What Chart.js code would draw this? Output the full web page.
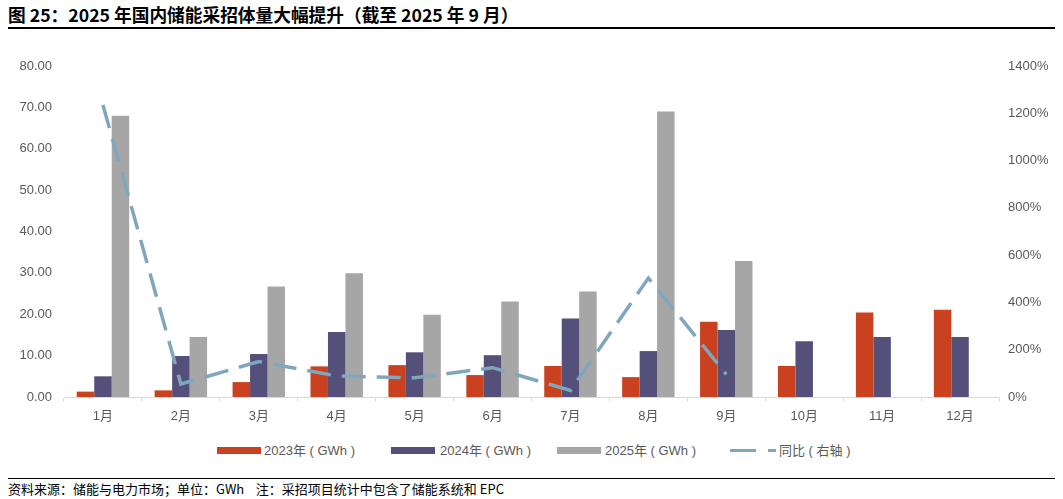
<!DOCTYPE html>
<html>
<head>
<meta charset="utf-8">
<script src="https://cdn.jsdelivr.net/npm/chart.js@4.4.0/dist/chart.umd.min.js"></script>
<style>
  body { margin: 0; width: 1063px; height: 499px; background: #fff; position: relative; overflow: hidden; }
  #title { position: absolute; left: 8px; top: 4px; font: bold 17.7px/20px "Noto Sans CJK SC", sans-serif; color: #000; white-space: nowrap; }
  #rule1 { position: absolute; left: 8px; top: 27px; width: 1047px; height: 2px; background: #000; }
  #rule2 { position: absolute; left: 8px; top: 478px; width: 1047px; height: 1px; background: #000; }
  #foot { position: absolute; left: 8px; top: 481px; font: 13px/16px "Noto Sans CJK SC", sans-serif; color: #000; white-space: pre; }
  #wrap { position: absolute; left: 0; top: 30px; width: 1063px; height: 410px; }
  .lg { position: absolute; top: 443px; font: 13px/16px "Liberation Sans", "Noto Sans CJK SC", sans-serif; color: #595959; white-space: pre; }
  .sw { position: absolute; height: 7px; top: 447px; width: 44px; }
  .ln { position: absolute; height: 3px; top: 449px; background: #80A6BD; }
</style>
</head>
<body>
<div id="title">图 25：2025 年国内储能采招体量大幅提升（截至 2025 年 9 月）</div>
<div id="rule1"></div>
<div id="wrap"><canvas id="chart"></canvas></div>

<!-- leyenda -->
<div class="sw" style="left:217px;background:#C9411F"></div>
<div class="lg" style="left:264px">2023年 ( GWh )</div>
<div class="sw" style="left:391px;background:#55507A"></div>
<div class="lg" style="left:440px">2024年 ( GWh )</div>
<div class="sw" style="left:557px;background:#A6A6A6"></div>
<div class="lg" style="left:605px">2025年 ( GWh )</div>
<div class="ln" style="left:730px;width:26px"></div>
<div class="ln" style="left:768px;width:8px"></div>
<div class="lg" style="left:779px">同比 ( 右轴 )</div>

<div id="rule2"></div>
<div id="foot">资料来源：储能与电力市场；单位：GWh    注：采招项目统计中包含了储能系统和 EPC</div>

<script>
// ---------- DATOS ----------
const meses = ['1月', '2月', '3月', '4月', '5月', '6月', '7月', '8月', '9月', '10月', '11月', '12月'];
const gwh2023 = [1.3, 1.6, 3.6, 7.4, 7.7, 5.3, 7.5, 4.8, 18.2, 7.5, 20.4, 21.1];
const gwh2024 = [5.0, 9.9, 10.4, 15.7, 10.8, 10.1, 19.0, 11.1, 16.2, 13.5, 14.5, 14.5];
const gwh2025 = [68.0, 14.5, 26.7, 29.9, 19.9, 23.1, 25.5, 69.0, 32.9, null, null, null];
const tongbi = [1235, 55, 150, 89, 81, 124, 28, 503, 96, null, null, null];

const ticksIzq = { min: 0, max: 80, step: 10 };
const ticksDer = { min: 0, max: 1400, step: 200 };

const fuenteTicks = { family: '"Liberation Sans", "Noto Sans CJK SC", sans-serif', size: 13 };
const colorTicks = '#595959';

// ---------- GRÁFICA ----------
const ctx = document.getElementById('chart');
new Chart(ctx, {
    data: {
        labels: meses,
        datasets: [
            {
                type: 'line',
                label: '同比（右轴）',
                data: tongbi,
                yAxisID: 'y1',
                borderColor: '#80A6BD',
                borderWidth: 3.5,
                borderDash: [24, 11],
                pointRadius: 0,
                tension: 0,
                fill: false,
                order: 0
            },
            { type: 'bar', label: '2023年（GWh）', data: gwh2023, backgroundColor: '#C9411F', yAxisID: 'y', order: 1 },
            { type: 'bar', label: '2024年（GWh）', data: gwh2024, backgroundColor: '#55507A', yAxisID: 'y', order: 1 },
            { type: 'bar', label: '2025年（GWh）', data: gwh2025, backgroundColor: '#A6A6A6', yAxisID: 'y', order: 1 }
        ]
    },
    options: {
        responsive: true,
        maintainAspectRatio: false,
        animation: false,
        datasets: {
            bar: { categoryPercentage: 0.673, barPercentage: 1.0 }
        },
        layout: { padding: { top: 36, bottom: 0, left: 0, right: 0 } },
        plugins: {
            legend: { display: false },
            tooltip: { enabled: false }
        },
        scales: {
            x: {
                offset: true,
                grid: { display: true, drawOnChartArea: false, drawTicks: true, tickLength: 4, color: '#D9D9D9', offset: true },
                border: { display: true, color: '#D9D9D9', width: 1 },
                ticks: { font: fuenteTicks, color: colorTicks, padding: 8, maxRotation: 0 },
                afterFit: s => { s.height = 43; }
            },
            y: {
                position: 'left',
                min: ticksIzq.min,
                max: ticksIzq.max,
                grid: { display: false, drawTicks: false },
                border: { display: false },
                ticks: {
                    stepSize: ticksIzq.step,
                    font: fuenteTicks,
                    color: colorTicks,
                    padding: 12,
                    callback: v => v.toFixed(2)
                },
                afterFit: s => { s.width = 64; }
            },
            y1: {
                position: 'right',
                min: ticksDer.min,
                max: ticksDer.max,
                grid: { display: false, drawTicks: false },
                border: { display: false },
                ticks: {
                    stepSize: ticksDer.step,
                    font: fuenteTicks,
                    color: colorTicks,
                    padding: 9,
                    callback: v => v + '%'
                },
                afterFit: s => { s.width = 64; }
            }
        }
    }
});
</script>
</body>
</html>
